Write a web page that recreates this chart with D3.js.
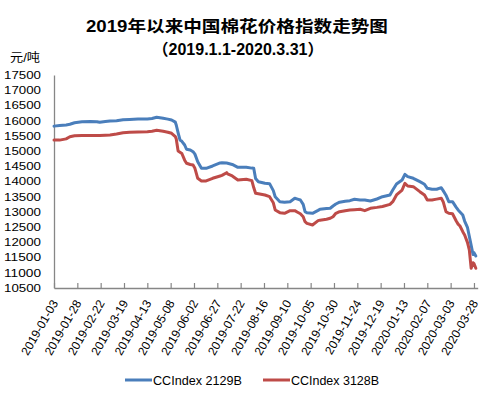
<!DOCTYPE html>
<html>
<head>
<meta charset="utf-8">
<script src="https://cdn.jsdelivr.net/npm/d3@7"></script>
<style>
  html, body { margin: 0; padding: 0; background: #fff; }
  svg { display: block; }
  text { font-family: "Liberation Sans", Arial, "Noto Sans CJK SC", sans-serif; fill: #000; }
</style>
</head>
<body>
<script>
// ---------------- data ----------------
const titleLines = ["2019年以来中国棉花价格指数走势图", "（2019.1.1-2020.3.31）"];
const unitLabel = "元/吨";
const seriesNames = ["CCIndex 2129B", "CCIndex 3128B"];
const yTicks = [10500, 11000, 11500, 12000, 12500, 13000, 13500, 14000, 14500, 15000, 15500, 16000, 16500, 17000, 17500];
const xTickLabels = ["2019-01-03","2019-01-28","2019-02-22","2019-03-19","2019-04-13","2019-05-08","2019-06-02","2019-06-27","2019-07-22","2019-08-16","2019-09-10","2019-10-05","2019-10-30","2019-11-24","2019-12-19","2020-01-13","2020-02-07","2020-03-03","2020-03-28"];
const dates = [
 "2019-01-03","2019-01-09","2019-01-16","2019-01-20","2019-01-25","2019-02-02","2019-02-11","2019-02-18","2019-02-21","2019-02-27",
 "2019-03-04","2019-03-11","2019-03-18","2019-03-25","2019-04-03","2019-04-13","2019-04-18","2019-04-23","2019-04-30","2019-05-05",
 "2019-05-09","2019-05-13","2019-05-14","2019-05-16","2019-05-18","2019-05-20","2019-05-23","2019-05-25","2019-05-29","2019-06-01",
 "2019-06-03","2019-06-06","2019-06-10","2019-06-15","2019-06-22","2019-06-30","2019-07-02","2019-07-07","2019-07-08","2019-07-13",
 "2019-07-19","2019-07-28","2019-08-03","2019-08-05","2019-08-07","2019-08-10","2019-08-17","2019-08-22","2019-08-26","2019-08-28",
 "2019-09-02","2019-09-07","2019-09-13","2019-09-18","2019-09-21","2019-09-24","2019-09-27","2019-09-29","2019-10-01","2019-10-07",
 "2019-10-13","2019-10-15","2019-10-22","2019-10-26","2019-10-29","2019-11-01","2019-11-05","2019-11-11","2019-11-16","2019-11-21",
 "2019-11-27","2019-12-02","2019-12-08","2019-12-15","2019-12-21","2019-12-29","2020-01-01","2020-01-05","2020-01-11","2020-01-14",
 "2020-01-17","2020-01-23","2020-01-30","2020-02-04","2020-02-07","2020-02-12","2020-02-17","2020-02-22","2020-02-24","2020-02-27",
 "2020-03-01","2020-03-05","2020-03-09","2020-03-11","2020-03-13","2020-03-16","2020-03-18","2020-03-21","2020-03-23","2020-03-25",
 "2020-03-27","2020-03-28","2020-03-30"
];
const index2129B = [
 15820,15840,15860,15880,15930,15966,15970,15966,15945,15970,
 15988,16000,16030,16040,16050,16055,16070,16110,16077,16050,
 16020,15950,15857,15600,15364,15320,15200,15060,15036,14980,
 14900,14650,14434,14434,14510,14610,14618,14610,14598,14560,
 14467,14467,14440,14434,14100,13994,13940,13930,13700,13501,
 13336,13320,13336,13448,13420,13392,13250,13008,12970,12955,
 13050,13087,13110,13120,13195,13260,13320,13350,13370,13415,
 13392,13392,13360,13425,13501,13557,13720,13918,14050,14237,
 14160,14105,13994,13908,13777,13744,13744,13797,13700,13550,
 13337,13337,13150,13064,13000,12900,12700,12495,12200,11900,
 11600,11661,11552
];
const index3128B = [
 15360,15360,15400,15470,15505,15510,15510,15510,15510,15520,
 15530,15560,15600,15616,15625,15638,15650,15682,15650,15620,
 15584,15473,15400,15000,14960,14920,14700,14600,14560,14540,
 14434,14105,14017,14017,14105,14181,14200,14290,14250,14181,
 14050,14072,14028,13800,13613,13600,13557,13501,13300,13064,
 12976,12955,13041,13041,12990,12940,12843,12680,12625,12571,
 12713,12730,12758,12791,12843,12955,13008,13040,13064,13075,
 13087,13041,13120,13150,13180,13250,13337,13557,13720,13940,
 13853,13830,13666,13557,13392,13392,13420,13448,13337,13008,
 12955,12940,12700,12600,12538,12350,12242,12000,11750,11148,
 11332,11300,11148
];
const colors = ["#4a7ebb", "#be4b48"];

// ---------------- chart ----------------
const W = 503, H = 395;
const parse = d3.timeParse("%Y-%m-%d");
const svg = d3.select("body").append("svg").attr("width", W).attr("height", H);

const x = d3.scaleTime()
  .domain([parse("2019-01-03"), parse("2020-04-01")])
  .range([54, 477.7]);
const y = d3.scaleLinear().domain([10500, 17500]).range([288, 75]);

// title
svg.append("text").attr("x", 237).attr("y", 32).attr("text-anchor", "middle")
  .attr("font-size", 16).attr("font-weight", "bold")
  .attr("textLength", 302).attr("lengthAdjust", "spacingAndGlyphs").text(titleLines[0]);
svg.append("text").attr("x", 238).attr("y", 55).attr("text-anchor", "middle")
  .attr("font-size", 16).attr("font-weight", "bold")
  .attr("textLength", 171).attr("lengthAdjust", "spacingAndGlyphs").text(titleLines[1]);
svg.append("text").attr("x", 10).attr("y", 62).attr("font-size", 12)
  .attr("textLength", 30).attr("lengthAdjust", "spacingAndGlyphs").text(unitLabel);

// y axis
const yAxis = d3.axisLeft(y).tickValues(yTicks).tickSize(0).tickPadding(13).tickFormat(d3.format("d"));
const gy = svg.append("g").attr("transform", "translate(54,0)").call(yAxis);
gy.select(".domain").attr("stroke", "#868686").attr("stroke-width", 1.3);
gy.selectAll("text").attr("font-size", 10.5).attr("fill", "#000")
  .attr("font-family", "'Liberation Sans', Arial, sans-serif")
  .attr("textLength", 37).attr("lengthAdjust", "spacingAndGlyphs");

// x axis
const tickDates = xTickLabels.map(parse);
const xAxis = d3.axisBottom(x).tickValues(tickDates).tickSize(0).tickFormat(d3.timeFormat("%Y-%m-%d"));
const gx = svg.append("g").attr("transform", "translate(0,288)").call(xAxis);
gx.select(".domain").attr("stroke", "#868686").attr("stroke-width", 1.3);
gx.selectAll(".tick line").remove();
gx.selectAll(".tick").append("line").attr("y1", 0).attr("y2", -5).attr("stroke", "#868686").attr("stroke-width", 1.2);
gx.selectAll("text")
  .attr("font-size", 12).attr("fill", "#000")
  .attr("font-family", "'Liberation Sans', Arial, sans-serif")
  .attr("text-anchor", "end").attr("dy", null).attr("y", null)
  .attr("transform", "translate(4,15) rotate(-60)");

// lines
const line = d3.line().x((d, i) => x(parse(dates[i]))).y(d => y(d));
[index2129B, index3128B].forEach((s, k) => {
  svg.append("path").datum(s).attr("d", line)
    .attr("fill", "none").attr("stroke", colors[k]).attr("stroke-width", 3)
    .attr("stroke-linejoin", "round").attr("stroke-linecap", "round");
});

// legend
const legX = [125, 263];
const legW = [89, 88];
seriesNames.forEach((n, k) => {
  svg.append("line").attr("x1", legX[k]).attr("x2", legX[k] + 27).attr("y1", 380).attr("y2", 380)
    .attr("stroke", colors[k]).attr("stroke-width", 3);
  svg.append("text").attr("x", legX[k] + 28).attr("y", 384.5).attr("font-size", 13)
    .attr("textLength", legW[k]).attr("lengthAdjust", "spacingAndGlyphs").text(n);
});
</script>
</body>
</html>
